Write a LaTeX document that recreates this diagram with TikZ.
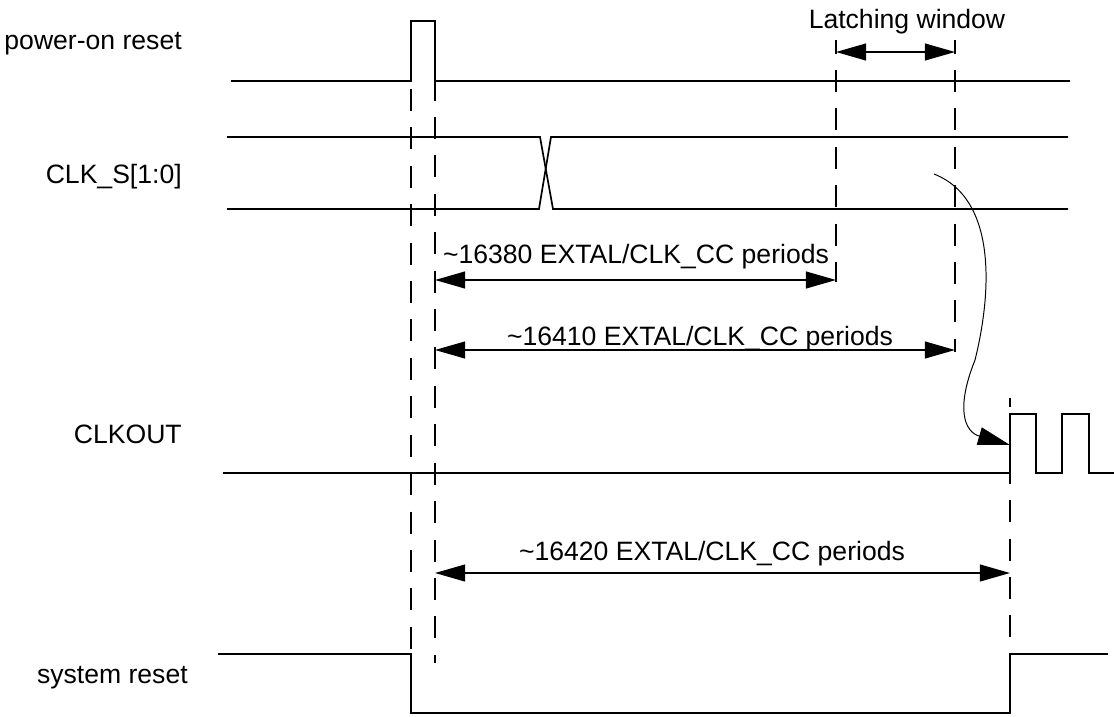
\documentclass[tikz,border=0pt]{standalone}
\usepackage{fontspec}
\setmainfont{Liberation Sans}
\usetikzlibrary{arrows.meta}

\begin{document}
\begin{tikzpicture}[
    x=0.025cm, y=-0.025cm,
    lbl/.style={font=\fontsize{18.9}{22}\selectfont, inner sep=0pt},
    wave/.style={line width=1.2pt},
    marker/.style={line width=1pt, dash pattern=on 0.55cm off 0.41cm},
    dim/.style={line width=1.1pt, {Triangle[length=0.75cm,width=0.42cm]}-{Triangle[length=0.75cm,width=0.42cm]}},
]
    \useasboundingbox (0,0) rectangle (1114,717);

    % Signal names
    \node[lbl, anchor=base east] (por) at (182,49) {power-on reset};
    \node[lbl, anchor=base east] (clks) at (182,183) {CLK\_S[1:0]};
    \node[lbl, anchor=base east] (clkout) at (182,443) {CLKOUT};
    \node[lbl, anchor=base east] (sysrst) at (188,683) {system reset};

    % Waveforms
    \draw[wave] (231,81) -- (411,81) -- (411,21) -- (435,21) -- (435,81) -- (1070,81);
    \draw[wave] (227,137) -- (540,137) -- (553,209) -- (1068,209);
    \draw[wave] (227,209) -- (539,209) -- (551,137) -- (1068,137);
    \draw[wave] (223,473) -- (1010,473) -- (1010,414) -- (1036,414) -- (1036,473)
        -- (1062,473) -- (1062,414) -- (1089,414) -- (1089,473) -- (1114,473);
    \draw[wave] (218,654) -- (411,654) -- (411,713) -- (1010,713) -- (1010,654) -- (1108,654);

    % Time markers
    \draw[marker] (411,89) -- (411,654);
    \draw[marker, dash phase=0.06cm] (435,81) -- (435,663);
    \draw[marker, dash phase=0.21cm] (836,40) -- (836,282);
    \draw[marker, dash phase=0.21cm] (955,40) -- (955,352);
    \draw[marker, dash phase=0.325cm] (1010,398) -- (1010,654);

    % Arrow end points
    \coordinate (latchL) at (836,52);
    \coordinate (latchR) at (955,52);
    \coordinate (d1L) at (435,280);
    \coordinate (d1R) at (836,280);
    \coordinate (d2L) at (435,350);
    \coordinate (d2R) at (955,350);
    \coordinate (d3L) at (435,573);
    \coordinate (d3R) at (1010,573);
    \coordinate (sel) at (934,174);
    \coordinate (clkon) at (1010,445);

    % Intervals
    \draw[dim] (latchL) -- (latchR);
    \draw[dim] (d1L) -- (d1R);
    \draw[dim] (d2L) -- (d2R);
    \draw[dim] (d3L) -- (d3R);

    \node[lbl, anchor=base] (latch) at (907,28) {Latching window};
    \node[lbl, anchor=base] (p16380) at (636,263) {\textasciitilde16380 EXTAL/CLK\_CC periods};
    \node[lbl, anchor=base] (p16410) at (700,345) {\textasciitilde16410 EXTAL/CLK\_CC periods};
    \node[lbl, anchor=base] (p16420) at (712,560) {\textasciitilde16420 EXTAL/CLK\_CC periods};

    % Clock select takes effect
    \draw[line width=0.7pt, -{Triangle[length=0.8cm,width=0.45cm]}] (sel)
        .. controls (1000,200) and (990,300) .. (975,360)
        .. controls (955,410) and (965,432) .. (clkon);
\end{tikzpicture}
\end{document}
